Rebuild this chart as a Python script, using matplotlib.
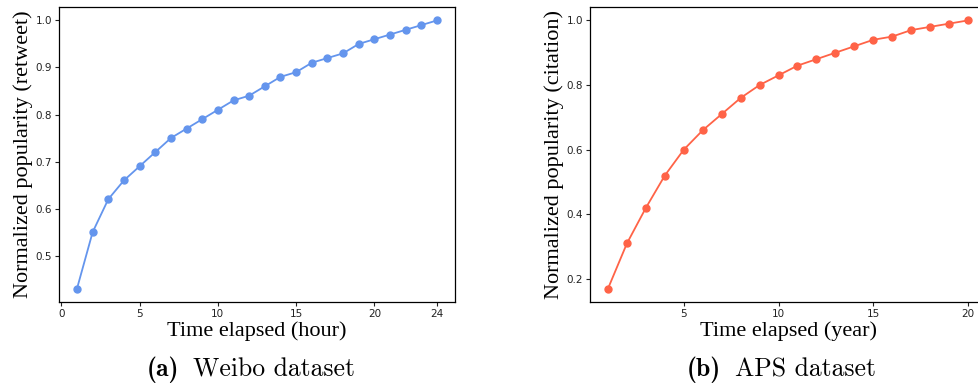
import numpy as np
import matplotlib.pyplot as plt

plt.rcParams["xtick.labelsize"] = 7.5
plt.rcParams["ytick.labelsize"] = 7.5
plt.rcParams["xtick.color"] = "#222222"
plt.rcParams["ytick.color"] = "#222222"

# Weibo: normalized retweet popularity per hour
weibo_hours = np.arange(1, 25)
weibo_pop = [0.43, 0.55, 0.62, 0.66, 0.69, 0.72, 0.75, 0.77, 0.79, 0.81, 0.83, 0.84,
             0.86, 0.88, 0.89, 0.91, 0.92, 0.93, 0.95, 0.96, 0.97, 0.98, 0.99, 1.00]
weibo_xticks = [0, 5, 10, 15, 20, 24]

# APS: normalized citation popularity per year
aps_years = np.arange(1, 21)
aps_pop = [0.17, 0.31, 0.42, 0.52, 0.60, 0.66, 0.71, 0.76, 0.80, 0.83,
           0.86, 0.88, 0.90, 0.92, 0.94, 0.95, 0.97, 0.98, 0.99, 1.00]
aps_xticks = [5, 10, 15, 20]

serif = "Liberation Serif"

fig = plt.figure(figsize=(9.79, 3.85), dpi=100)
W, H = 979.0, 385.0

def px_axes(left, top, right, bottom):
    return fig.add_axes([left / W, 1 - bottom / H, (right - left) / W, (bottom - top) / H])

ax1 = px_axes(59, 7, 455, 302)
ax2 = px_axes(590, 7, 986, 302)

def style(ax, x, y, color, xticks, xlabel, ylabel):
    ax.plot(x, y, color=color, lw=1.3, marker="o", ms=5)
    ax.set_xticks(xticks)
    ax.set_xlabel(xlabel, fontfamily=serif, fontsize=16, labelpad=2)
    ax.set_ylabel(ylabel, fontfamily=serif, fontsize=16, labelpad=2)
    ax.tick_params(length=3, width=0.8, pad=2)
    for s in ax.spines.values():
        s.set_linewidth(0.9)

style(ax1, weibo_hours, weibo_pop, "#6495ED", weibo_xticks,
      "Time elapsed (hour)", "Normalized popularity (retweet)")
style(ax2, aps_years, aps_pop, "#FF6347", aps_xticks,
      "Time elapsed (year)", "Normalized popularity (citation)")

def caption(xc, label, name):
    fig.text((xc - 7) / W, 1 - 370 / H, label, fontfamily="cmb10", fontsize=18.5,
             ha="right", va="center")
    fig.text((xc + 7) / W, 1 - 370 / H, name, fontfamily="cmr10", fontsize=18.5,
             ha="left", va="center")

caption(186, "(a)", "Weibo dataset")
caption(728, "(b)", "APS dataset")

fig.savefig("out.png", dpi=100)
